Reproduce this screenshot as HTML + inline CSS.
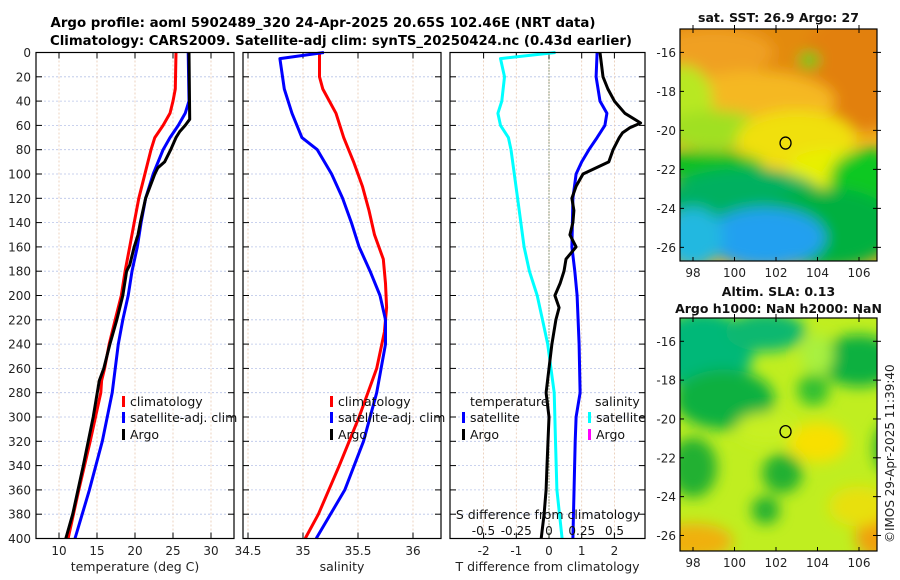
<!DOCTYPE html>
<html><head><meta charset="utf-8"><style>
html,body{margin:0;padding:0;background:#fff;}
svg{display:block;font-family:"DejaVu Sans","Liberation Sans",sans-serif;}
</style></head><body>
<svg id="chart" width="900" height="580" viewBox="0 0 900 580" xmlns="http://www.w3.org/2000/svg">
<defs>
<filter id="blur1" x="-20%" y="-20%" width="140%" height="140%"><feGaussianBlur stdDeviation="7"/></filter>
<filter id="blur2" x="-20%" y="-20%" width="140%" height="140%"><feGaussianBlur stdDeviation="9"/></filter>
<clipPath id="clipm1"><rect x="680" y="29" width="197" height="232"/></clipPath>
<clipPath id="clipm2"><rect x="680" y="318" width="197" height="233"/></clipPath>
</defs>
<g id="titles">
<text x="323" y="27" text-anchor="middle" font-weight="bold" font-size="13" textLength="545" lengthAdjust="spacingAndGlyphs">Argo profile: aoml 5902489_320 24-Apr-2025 20.65S 102.46E (NRT data)</text>
<text x="341" y="45" text-anchor="middle" font-weight="bold" font-size="13" textLength="582" lengthAdjust="spacingAndGlyphs">Climatology: CARS2009. Satellite-adj clim: synTS_20250424.nc (0.43d earlier)</text>
</g>
<g id="panels"></g>
<g id="maps"></g>
</svg>
<script>
// ---------- data ----------
const depthTicks = [0,20,40,60,80,100,120,140,160,180,200,220,240,260,280,300,320,340,360,380,400];
const tempTicks = [10,15,20,25,30];
const salTicks = [34.5,35,35.5,36];
const tdiffTicks = [-2,-1,0,1,2];
const sdiffTicks = [-0.5,-0.25,0,0.25,0.5];
const sdiffLabels = ["-0.5","-0.25","0","0.25","0.5"];

const tClimDepth = [0,30,40,50,60,70,80,100,120,140,160,180,200,220,240,260,270,280,320,360,400];
const tClimVal   = [25.4,25.3,25.0,24.6,23.7,22.6,22.1,21.3,20.5,19.9,19.3,18.7,18.2,17.4,16.6,16.0,15.6,15.5,14.1,12.6,11.2];
const tSatDepth = [0,40,50,60,70,80,100,120,140,160,180,200,220,240,280,320,360,400];
const tSatVal   = [27.0,27.1,26.6,25.7,24.6,23.7,22.4,21.4,20.8,20.3,19.6,19.1,18.4,17.8,17.0,15.7,14.0,12.1];
const tArgoDepth = [0,55,60,65,70,80,90,95,100,120,140,150,160,175,180,200,220,240,260,270,300,340,380,400];
const tArgoVal   = [27.1,27.2,26.6,25.9,25.4,24.7,23.9,23.0,22.6,21.4,20.7,20.4,19.9,19.3,18.9,18.4,17.6,16.7,15.9,15.3,14.5,13.2,11.8,10.9];

const sClimDepth = [0,20,30,50,70,90,110,130,150,170,190,210,230,260,300,340,380,400];
const sClimVal   = [35.15,35.15,35.18,35.30,35.37,35.46,35.54,35.60,35.65,35.73,35.75,35.76,35.74,35.67,35.51,35.33,35.14,35.02];
const sSatDepth = [0,5,30,50,70,80,100,120,140,160,180,200,220,240,280,320,360,400];
const sSatVal   = [35.19,34.79,34.83,34.90,34.99,35.13,35.26,35.36,35.44,35.51,35.61,35.70,35.75,35.75,35.67,35.55,35.38,35.12];

const dSalSatDepth = [0,5,20,40,50,60,70,80,120,160,180,200,220,240,280,320,360,400];
const dSalSatVal   = [0.05,-0.37,-0.34,-0.36,-0.39,-0.37,-0.31,-0.29,-0.24,-0.19,-0.15,-0.09,-0.05,-0.01,0.04,0.05,0.06,0.10];
const dTSatDepth = [0,20,40,50,60,70,80,90,100,120,160,180,200,240,280,300,320,400];
const dTSatVal   = [1.47,1.44,1.56,1.77,1.71,1.47,1.22,1.00,0.83,0.73,0.70,0.79,0.86,0.92,0.95,0.83,0.80,0.73];
const dTArgoDepth = [0,20,30,40,50,58,62,66,70,80,90,100,110,120,130,140,150,160,170,180,190,200,210,220,240,260,280,300,320,340,360,380,400];
const dTArgoVal   = [1.56,1.65,1.80,2.00,2.32,2.80,2.47,2.25,2.15,1.96,1.83,1.04,0.83,0.70,0.76,0.73,0.64,0.83,0.52,0.46,0.34,0.18,0.31,0.21,0.09,0.00,-0.09,0.00,-0.03,-0.06,-0.09,-0.15,-0.24];

const mapLatTicks = [-16,-18,-20,-22,-24,-26];
const mapLonTicks = [98,100,102,104,106];
const floatLon = [102.46];
const floatLat = [-20.65];

// ---------- helpers ----------
const NS = "http://www.w3.org/2000/svg";
function mk(tag, attrs, parent){ const e=document.createElementNS(NS,tag); for(const k in attrs) e.setAttribute(k,attrs[k]); if(parent) parent.appendChild(e); return e; }
const Y0=52.5, YS=1.215;
const yD = d => Y0 + d*YS;
const xT = t => 59 + (t-10)*7.6;
const xS = s => 248 + (s-34.5)*110;
const xTd = v => 549 + v*32.7;
const xSd = v => 549 + v*131;
const P = document.getElementById('panels');

function panel(name, x0, x1, xTickVals, xFn, xLabels, xTitle, showYLabels){
  const g = mk('g',{},P);
  
  
  // grid
  depthTicks.forEach(d=>{ mk('line',{x1:x0,x2:x1,y1:yD(d),y2:yD(d),stroke:'#b8c4e8','stroke-width':0.8,'stroke-dasharray':'2,2'},g); });
  xTickVals.forEach(v=>{ const x=xFn(v); mk('line',{x1:x,x2:x,y1:yD(0),y2:yD(400),stroke:'#e8c8b0','stroke-width':0.8,'stroke-dasharray':'2,2'},g); });
  // ticks
  depthTicks.forEach(d=>{ mk('line',{x1:x0,x2:x0+6,y1:yD(d),y2:yD(d),stroke:'#000'},g); mk('line',{x1:x1-6,x2:x1,y1:yD(d),y2:yD(d),stroke:'#000'},g);
    if(showYLabels){ const t=mk('text',{x:x0-5,y:yD(d)+4.5,'text-anchor':'end','font-size':12,fill:'#222'},g); t.textContent=d;   } });
  xTickVals.forEach((v,i)=>{ const x=xFn(v); mk('line',{x1:x,x2:x,y1:yD(400),y2:yD(400)-6,stroke:'#000'},g); mk('line',{x1:x,x2:x,y1:yD(0),y2:yD(0)+6,stroke:'#000'},g);
    const t=mk('text',{x:x,y:555,'text-anchor':'middle','font-size':12,fill:'#222'},g); t.textContent=xLabels[i];   });
  const tt=mk('text',{x:(x0+x1)/2,y:571,'text-anchor':'middle','font-size':12.5,fill:'#222'},g); tt.textContent=xTitle;
  
  
  return g;
}
function frame(g,x0,x1){ mk('rect',{x:x0,y:yD(0),width:x1-x0,height:yD(400)-yD(0),fill:'none',stroke:'#000','stroke-width':1.2},g); }
function line(g, depths, vals, xFn, color, name, w){
  const pts = depths.map((d,i)=>xFn(vals[i]).toFixed(1)+','+yD(d).toFixed(1)).join(' ');
  const e = mk('polyline',{points:pts,fill:'none',stroke:color,'stroke-width':w||3,'stroke-linejoin':'round'},g);
  
  
}
function legend(g,x,y,color,label,name){
  mk('rect',{x:x,y:y-10,width:3,height:11,fill:color},g);
  const t=mk('text',{x:x+8,y:y,'font-size':12.5,fill:'#111'},g); t.textContent=label;
  
  
}

// Panel 1: temperature
const g1 = panel('temperature-panel',36,234,tempTicks,xT,tempTicks.map(String),'temperature (deg C)',true);
line(g1,tClimDepth,tClimVal,xT,'#ff0000','temp-climatology-line');
line(g1,tSatDepth,tSatVal,xT,'#0000ff','temp-satellite-adj-line');
line(g1,tArgoDepth,tArgoVal,xT,'#000000','temp-argo-line');
frame(g1,36,234);
legend(g1,122,406,'#ff0000','climatology','legend-climatology');
legend(g1,122,422,'#0000ff','satellite-adj. clim','legend-satellite-adj');
legend(g1,122,439,'#000','Argo','legend-argo');

// Panel 2: salinity
const g2 = panel('salinity-panel',243,441,salTicks,xS,["34.5","35","35.5","36"],'salinity',false);
line(g2,sClimDepth,sClimVal,xS,'#ff0000','sal-climatology-line');
line(g2,sSatDepth,sSatVal,xS,'#0000ff','sal-satellite-adj-line');
frame(g2,243,441);
legend(g2,330,406,'#ff0000','climatology','legend-sal-climatology');
legend(g2,330,422,'#0000ff','satellite-adj. clim','legend-sal-satellite-adj');
legend(g2,330,439,'#000','Argo','legend-sal-argo');

// Panel 3: differences
const g3 = panel('difference-panel',450,645,tdiffTicks,xTd,tdiffTicks.map(String),'T difference from climatology',false);
mk('line',{x1:xTd(0),x2:xTd(0),y1:yD(0),y2:yD(400),stroke:'#335522','stroke-width':1,'stroke-dasharray':'1,2'},g3);
line(g3,dSalSatDepth,dSalSatVal,xSd,'#00ffff','sal-diff-satellite-line');
line(g3,dTSatDepth,dTSatVal,xTd,'#0000ff','temp-diff-satellite-line');
line(g3,dTArgoDepth,dTArgoVal,xTd,'#000000','temp-diff-argo-line');
frame(g3,450,645);
{ const t=mk('text',{x:470,y:406,'font-size':12.5,fill:'#111'},g3); t.textContent='temperature';   }
{ const t=mk('text',{x:595,y:406,'font-size':12.5,fill:'#111'},g3); t.textContent='salinity';   }
legend(g3,462,422,'#0000ff','satellite','legend-temp-satellite');
legend(g3,462,439,'#000','Argo','legend-temp-argo');
legend(g3,588,422,'#00ffff','satellite','legend-sal-satellite');
legend(g3,588,439,'#ff00ff','Argo','legend-sal-argo');
{ const t=mk('text',{x:548,y:519,'text-anchor':'middle','font-size':12.5,fill:'#111'},g3); t.textContent='S difference from climatology';   }
sdiffTicks.forEach((v,i)=>{ const t=mk('text',{x:xSd(v),y:535,'text-anchor':'middle','font-size':12,fill:'#111'},g3); t.textContent=sdiffLabels[i];
  
   });

// ---------- maps ----------
const M = document.getElementById('maps');
function mapFrame(name, y0, y1, latTop, latBot, title, blobs, bg, clip, ylabelsRight){
  const g = mk('g',{},M);
  
  
  const x0=680,x1=877;
  const lonX = lon => 693 + (lon-98)*20.75;
  const latY = lat => y0 + (latTop-lat)/(latTop-latBot)*(y1-y0);
  const c = mk('g',{'clip-path':'url(#'+clip+')'},g);
  mk('rect',{x:x0,y:y0,width:x1-x0,height:y1-y0,fill:bg},c);
  const bg2 = mk('g',{filter:'url(#blur1)'},c);
  blobs.forEach(b=>{ mk('ellipse',{cx:lonX(b[0]),cy:latY(b[1]),rx:b[2]*20,ry:b[3]*20,fill:b[4]},bg2); });
  mk('rect',{x:x0,y:y0,width:x1-x0,height:y1-y0,fill:'none',stroke:'#000','stroke-width':1.2},g);
  mapLatTicks.forEach(l=>{ const y=latY(l); mk('line',{x1:x0,x2:x0+4,y1:y,y2:y,stroke:'#000'},g); mk('line',{x1:x1-4,x2:x1+4,y1:y,y2:y,stroke:'#000'},g);
    const t=mk('text',{x:x0-4,y:y+4.5,'text-anchor':'end','font-size':12,fill:'#222'},g); t.textContent=l;   });
  mapLonTicks.forEach(l=>{ const x=lonX(l); mk('line',{x1:x,x2:x,y1:y1,y2:y1-4,stroke:'#000'},g); mk('line',{x1:x,x2:x,y1:y0-4,y2:y0+4,stroke:'#000'},g);
    const t=mk('text',{x:x,y:y1+16,'text-anchor':'middle','font-size':12,fill:'#222'},g); t.textContent=l;   });
  const ci = mk('ellipse',{cx:lonX(floatLon[0]),cy:latY(floatLat[0]),rx:5.5,ry:6,fill:'none',stroke:'#000','stroke-width':1.3},g);
  
  
  title.forEach((tx,i)=>{ const t=mk('text',{x:(x0+x1)/2,y:(i===0? (title.length>1? y0-22 : y0-7) : y0-5),'text-anchor':'middle','font-weight':'bold','font-size':12.5,fill:'#111'},g); t.textContent=tx;
      });
  return g;
}
mapFrame('sst-map',29,261,-14.8,-26.7,['sat. SST: 26.9 Argo: 27'],[
  [103,-15.5,8,2.2,'#e38a10'],[106,-17,3,3,'#e28010'],[99,-16,3,1.2,'#f0a020'],
  [101,-18.5,4,1.5,'#f5b820'],[97.5,-18.5,1.5,1.8,'#b8e820'],[99,-20,2.5,1,'#a0e020'],
  [103,-20.5,3,1.5,'#f0e010'],[104.5,-22,2,1,'#e8f000'],[98.5,-21.8,3,0.7,'#10c020'],
  [106.5,-22.5,2,1.5,'#10c820'],[100.5,-23.5,4,1.5,'#00b060'],[104.5,-25,3.5,2,'#00b040'],
  [101.5,-25.5,3,1.5,'#20a0f0'],[98,-25.5,1.5,1.5,'#20b8e0'],[103.6,-16.4,0.5,0.4,'#40d020']
],'#f0b020','clipm1');
mapFrame('sla-map',318,551,-14.8,-26.8,['Altim. SLA: 0.13','Argo h1000: NaN h2000: NaN'],[
  [98.5,-16.5,2.5,2,'#00b878'],[101.5,-15.5,2,1,'#10b870'],[99.5,-19,2.5,1.5,'#10b040'],
  [106,-17,2,1.3,'#10b040'],[104,-16.7,0.8,1,'#a8f040'],[103.8,-18.5,0.8,0.8,'#30c030'],
  [98,-22.5,1.2,1.5,'#20b030'],[102.3,-22.8,1,1,'#20b030'],[101.5,-24.7,0.7,0.7,'#20b030'],
  [107.5,-21.5,0.8,1.3,'#20b030'],[104,-21.2,1.5,1,'#f8e000'],[98,-26.3,2,0.9,'#f0b010'],
  [107,-26,1.2,1.2,'#f0a010'],[106,-24.5,1.5,1,'#e8e010'],[101.5,-20.5,1.5,0.8,'#c8f020']
],'#c0ee20','clipm2');
{ const t=mk('text',{x:0,y:0,'font-size':12,fill:'#222',transform:'translate(894,543) rotate(-90)'},M); t.textContent='©IMOS 29-Apr-2025 11:39:40';
  
   }
</script>
</body></html>
